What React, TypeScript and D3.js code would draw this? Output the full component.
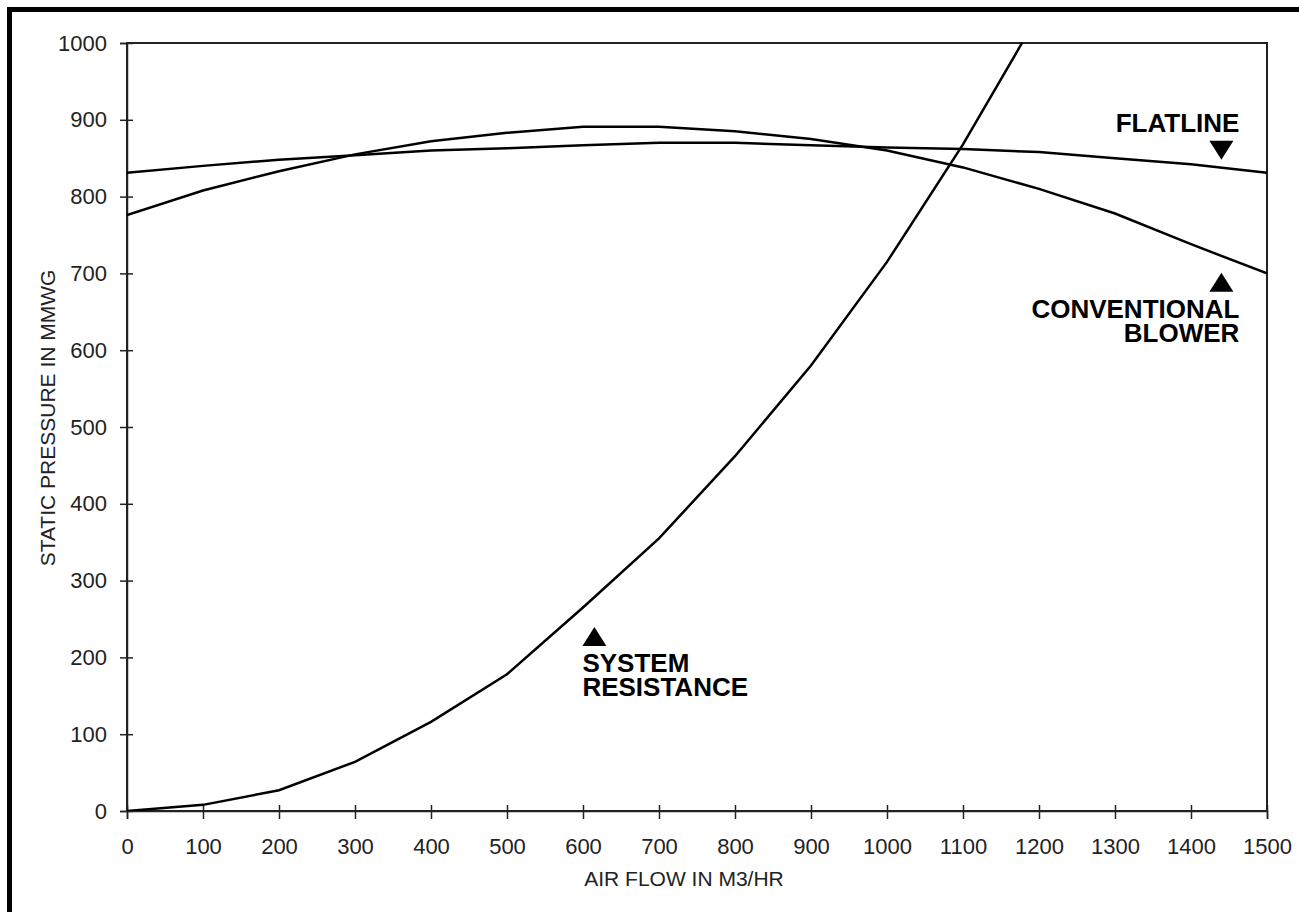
import React, { useRef, useEffect } from 'react';
import * as d3 from 'd3';

// air flow (m3/hr) sample points shared by the two blower curves
const flow = [0, 100, 200, 300, 400, 500, 600, 700, 800, 900, 1000, 1100, 1200, 1300, 1400, 1500];
const conventional = [776, 808, 833, 855, 872, 883, 891, 891, 885, 875, 860, 838, 810, 778, 738, 700];
const flatline = [831, 840, 848, 854, 860, 863, 867, 870, 870, 867, 864, 862, 858, 850, 842, 831];
const systemFlow = [0, 100, 200, 300, 400, 500, 600, 700, 800, 900, 1000, 1100, 1200];
const systemResistance = [0, 8, 27, 64, 116, 178, 265, 355, 462, 580, 715, 868, 1038];

const xTicks = [0, 100, 200, 300, 400, 500, 600, 700, 800, 900, 1000, 1100, 1200, 1300, 1400, 1500];
const yTicks = [0, 100, 200, 300, 400, 500, 600, 700, 800, 900, 1000];

// annotation labels: triangle tip/base at (flow, pressure)
const notes = [
  { lines: ['FLATLINE'], x: 1440, y: 848, dir: 'down', anchor: 'end' },
  { lines: ['CONVENTIONAL', 'BLOWER'], x: 1440, y: 676, dir: 'up', anchor: 'end' },
  { lines: ['SYSTEM', 'RESISTANCE'], x: 615, y: 215, dir: 'up', anchor: 'start' },
];

const W = 1299;
const H = 912;

export default function App() {
  const svgRef = useRef<SVGSVGElement>(null);

  useEffect(() => {
    const svg = d3.select(svgRef.current);
    svg.selectAll('*').remove();

    const margin = { left: 127, right: 32, top: 43, bottom: 101 };
    const x = d3.scaleLinear().domain([0, 1500]).range([margin.left, W - margin.right]);
    const y = d3.scaleLinear().domain([0, 1000]).range([H - margin.bottom, margin.top]);
    const font = '"Liberation Sans", Arial, sans-serif';

    svg.append('rect').attr('width', W).attr('height', H).attr('fill', '#fff');
    // black frame (left and top)
    svg.append('rect').attr('x', 7).attr('y', 7).attr('width', 5).attr('height', H - 7).attr('fill', '#000');
    svg.append('rect').attr('x', 7).attr('y', 7).attr('width', W - 7).attr('height', 5).attr('fill', '#000');

    svg.append('defs').append('clipPath').attr('id', 'plot')
      .append('rect')
      .attr('x', x(0)).attr('y', y(1000))
      .attr('width', x(1500) - x(0)).attr('height', y(0) - y(1000));

    // plot box
    svg.append('rect')
      .attr('x', x(0)).attr('y', y(1000))
      .attr('width', x(1500) - x(0)).attr('height', y(0) - y(1000))
      .attr('fill', 'none').attr('stroke', '#222').attr('stroke-width', 1.5)
      .attr('shape-rendering', 'crispEdges');

    const yAxis = svg.append('g')
      .attr('transform', `translate(${x(0)},0)`)
      .call(d3.axisLeft(y).tickValues(yTicks).tickSize(7).tickPadding(13).tickFormat(d3.format('d')));
    yAxis.select('.domain').attr('stroke', '#222').attr('stroke-width', 1.5);
    yAxis.selectAll('.tick line').attr('x1', 6).attr('x2', -7).attr('stroke', '#222').attr('stroke-width', 1.5);
    yAxis.selectAll('text').attr('font-family', font).attr('font-size', 22).attr('fill', '#222');

    const xAxis = svg.append('g')
      .attr('transform', `translate(0,${y(0)})`)
      .call(d3.axisBottom(x).tickValues(xTicks).tickSize(8).tickPadding(19).tickFormat(d3.format('d')));
    xAxis.select('.domain').attr('stroke', '#222').attr('stroke-width', 1.5);
    xAxis.selectAll('.tick line').attr('y1', -6).attr('y2', 8).attr('stroke', '#222').attr('stroke-width', 1.5);
    xAxis.selectAll('text').attr('font-family', font).attr('font-size', 22).attr('fill', '#222');

    svg.append('text')
      .attr('x', 684).attr('y', 886)
      .attr('text-anchor', 'middle')
      .attr('font-family', font).attr('font-size', 21).attr('fill', '#222')
      .text('AIR FLOW IN M3/HR');

    svg.append('text')
      .attr('transform', `translate(55,418) rotate(-90)`)
      .attr('text-anchor', 'middle')
      .attr('font-family', font).attr('font-size', 21).attr('fill', '#222')
      .text('STATIC PRESSURE IN MMWG');

    const line = d3.line<[number, number]>().x(d => x(d[0])).y(d => y(d[1]));
    const curves = [
      flow.map((f, i) => [f, conventional[i]] as [number, number]),
      flow.map((f, i) => [f, flatline[i]] as [number, number]),
      systemFlow.map((f, i) => [f, systemResistance[i]] as [number, number]),
    ];
    svg.append('g').attr('clip-path', 'url(#plot)')
      .selectAll('path')
      .data(curves)
      .join('path')
      .attr('d', d => line(d))
      .attr('fill', 'none')
      .attr('stroke', '#000')
      .attr('stroke-width', 2.5);

    // annotations
    notes.forEach(n => {
      const cx = x(n.x);
      const cy = y(n.y);
      const tri = n.dir === 'down'
        ? `M${cx - 12},${cy - 19}L${cx + 12},${cy - 19}L${cx},${cy}Z`
        : `M${cx - 12},${cy}L${cx + 12},${cy}L${cx},${cy - 19}Z`;
      svg.append('path').attr('d', tri).attr('fill', '#000');
      const tx = n.anchor === 'end' ? cx + 18 : cx - 12;
      const firstBase = n.dir === 'down' ? cy - 28 : cy + 26;
      const label = svg.append('text')
        .attr('text-anchor', n.anchor)
        .attr('font-family', font).attr('font-size', 26).attr('font-weight', 'bold').attr('fill', '#000');
      n.lines.forEach((t, i) => {
        label.append('tspan')
          .attr('x', tx)
          .attr('y', firstBase + i * 24)
          .text(t);
      });
    });
  }, []);

  return (
    <svg ref={svgRef} width={W} height={H} style={{ position: 'absolute', left: 0, top: 0, display: 'block' }} />
  );
}
